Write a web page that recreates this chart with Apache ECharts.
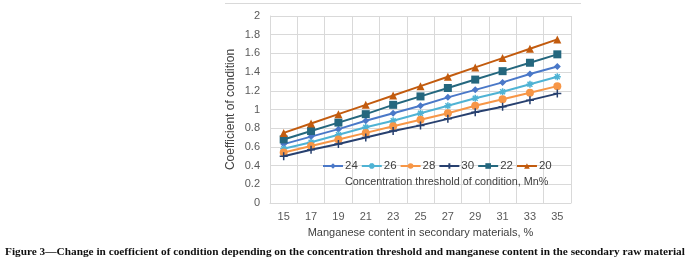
<!DOCTYPE html>
<html>
<head>
<meta charset="utf-8">
<script src="https://cdn.jsdelivr.net/npm/echarts@6/dist/echarts.min.js"></script>
<style>
  html, body { margin: 0; padding: 0; background: #fff; }
  #chart { width: 694px; height: 266px; }
</style>
</head>
<body>
<div id="chart"></div>
<script>
  // Mn content in secondary materials, %
  var mnContent = ['15', '17', '19', '21', '23', '25', '27', '29', '31', '33', '35']
  var yTicks = [0, 0.2, 0.4, 0.6, 0.8, 1, 1.2, 1.4, 1.6, 1.8, 2]

  // coefficient of condition per concentration threshold
  var th24 = [0.63, 0.71, 0.79, 0.88, 0.96, 1.04, 1.13, 1.21, 1.29, 1.38, 1.46]
  var th26 = [0.58, 0.65, 0.73, 0.81, 0.88, 0.96, 1.04, 1.12, 1.19, 1.27, 1.35]
  var th28 = [0.54, 0.61, 0.68, 0.75, 0.82, 0.89, 0.96, 1.04, 1.11, 1.18, 1.25]
  var th30 = [0.50, 0.57, 0.63, 0.70, 0.77, 0.83, 0.90, 0.97, 1.03, 1.10, 1.17]
  var th22 = [0.68, 0.77, 0.86, 0.95, 1.05, 1.14, 1.23, 1.32, 1.41, 1.50, 1.59]
  var th20 = [0.75, 0.85, 0.95, 1.05, 1.15, 1.25, 1.35, 1.45, 1.55, 1.65, 1.75]

  var seriesNames = ['24', '26', '28', '30', '22', '20']
  var seriesData = [th24, th26, th28, th30, th22, th20]
  var colors = ['#4a78c8', '#4fb3d4', '#f79646', '#27406f', '#24677e', '#c25b0e']

  var asterisk = 'path://M0,5L10,5M5,0L5,10M1.5,1.5L8.5,8.5M8.5,1.5L1.5,8.5'
  var plus = 'path://M0,5L10,5M5,0L5,10'
  var symbols = ['diamond', asterisk, 'circle', plus, 'rect', 'triangle']
  var symbolSizes = [7, 7, 8, 8, 8, 8]

  var chart = echarts.init(document.getElementById('chart'))

  var series = seriesNames.map(function (name, i) {
    var stroked = symbols[i] === asterisk || symbols[i] === plus
    return {
      name: name,
      type: 'line',
      data: seriesData[i],
      symbol: symbols[i],
      symbolSize: symbolSizes[i],
      showAllSymbol: true,
      lineStyle: { width: 2, color: colors[i] },
      itemStyle: {
        color: colors[i],
        borderColor: colors[i],
        borderWidth: stroked ? 1.5 : 0
      },
      z: 3 + i
    }
  })

  chart.setOption({
    animation: false,
    color: colors,
    title: {
      text: 'Figure 3\u2014Change in coefficient of condition depending on the concentration threshold and manganese content in the secondary raw material',
      left: 5,
      top: 247,
      padding: 0,
      textStyle: {
        fontFamily: 'Liberation Serif',
        fontWeight: 'bold',
        fontSize: 11.3,
        color: '#111'
      }
    },
    legend: {
      data: seriesNames,
      left: 322,
      top: 160,
      itemWidth: 20,
      itemHeight: 7,
      itemGap: 3,
      padding: 0,
      textStyle: { fontFamily: 'Liberation Sans', fontSize: 11.5, color: '#404040', padding: [0, 0, 0, -3] }
    },
    graphic: [
      {
        type: 'line',
        shape: { x1: 225, y1: 3.5, x2: 581, y2: 3.5 },
        style: { stroke: '#d9d9d9', lineWidth: 1 }
      },
      {
        type: 'text',
        left: 345,
        top: 177,
        z: 10,
        style: {
          text: 'Concentration threshold of condition, Mn%',
          font: '10.8px "Liberation Sans"',
          fill: '#404040'
        }
      }
    ],
    grid: { left: 270, right: 123, top: 16, bottom: 63 },
    xAxis: {
      type: 'category',
      data: mnContent,
      boundaryGap: true,
      name: 'Manganese content in secondary materials, %',
      nameLocation: 'middle',
      nameGap: 24,
      nameTextStyle: { fontFamily: 'Liberation Sans', fontSize: 11, color: '#404040' },
      axisLine: { lineStyle: { color: '#d9d9d9' } },
      axisTick: { show: false },
      axisLabel: { fontFamily: 'Liberation Sans', fontSize: 11, color: '#595959', margin: 8, interval: 0 },
      splitLine: { show: true, lineStyle: { color: '#d9d9d9' } }
    },
    yAxis: {
      type: 'value',
      min: yTicks[0],
      max: yTicks[yTicks.length - 1],
      interval: 0.2,
      name: 'Coefficient of condition',
      nameLocation: 'middle',
      nameGap: 33,
      nameTextStyle: { fontFamily: 'Liberation Sans', fontSize: 12, color: '#404040' },
      axisLine: { show: true, lineStyle: { color: '#d9d9d9' } },
      axisTick: { show: false },
      axisLabel: { fontFamily: 'Liberation Sans', fontSize: 11, color: '#595959', margin: 10 },
      splitLine: { show: true, lineStyle: { color: '#d9d9d9' } }
    },
    series: series
  })
</script>
</body>
</html>
